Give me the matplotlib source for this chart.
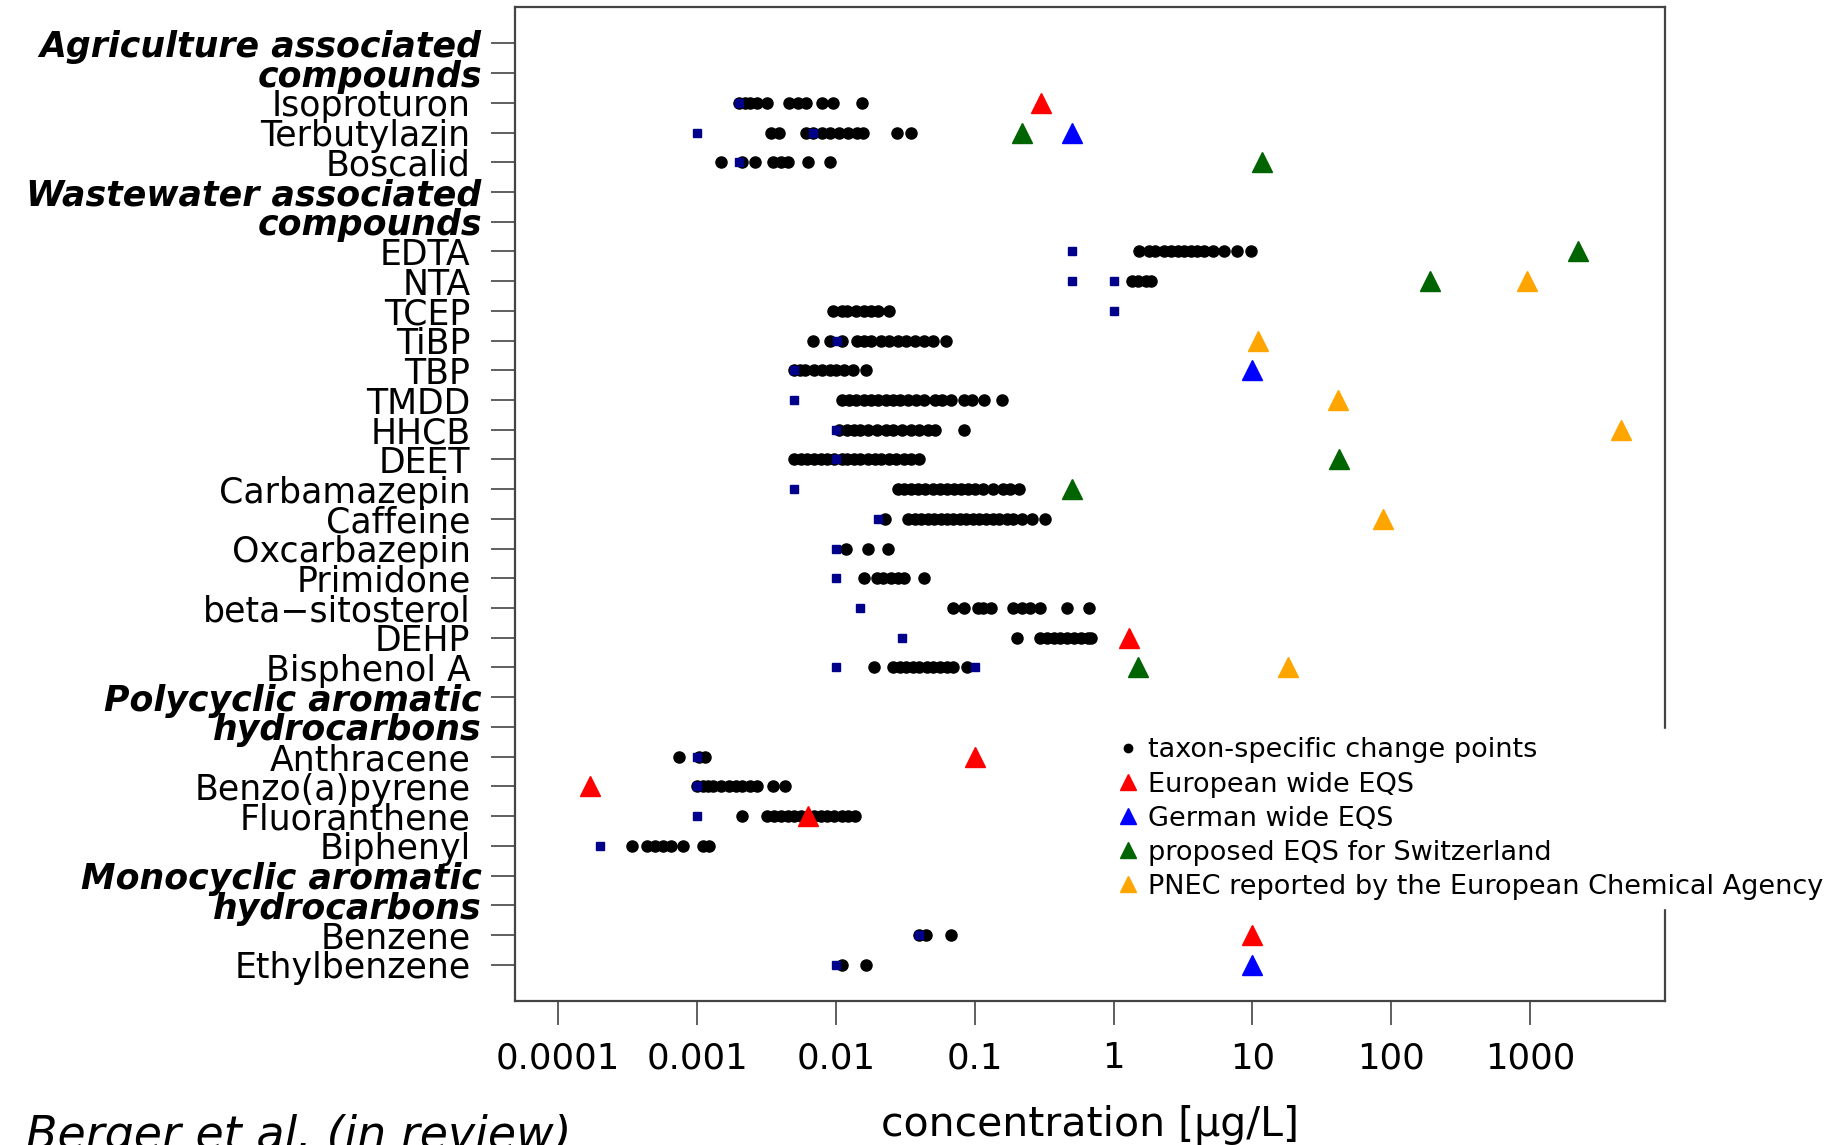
import matplotlib.pyplot as plt
from matplotlib.lines import Line2D
from matplotlib.ticker import NullLocator

# rows from top to bottom
row_labels = ['Agriculture associated', 'compounds',
              'Isoproturon', 'Terbutylazin', 'Boscalid',
              'Wastewater associated', 'compounds',
              'EDTA', 'NTA', 'TCEP', 'TiBP', 'TBP', 'TMDD', 'HHCB', 'DEET',
              'Carbamazepin', 'Caffeine', 'Oxcarbazepin', 'Primidone',
              'beta\u2212sitosterol', 'DEHP', 'Bisphenol A',
              'Polycyclic aromatic', 'hydrocarbons',
              'Anthracene', 'Benzo(a)pyrene', 'Fluoranthene', 'Biphenyl',
              'Monocyclic aromatic', 'hydrocarbons',
              'Benzene', 'Ethylbenzene']
header_rows = [0, 1, 5, 6, 22, 23, 28, 29]

# taxon-specific change points (ug/L)
change_points = {
    'Isoproturon': [0.0020, 0.0022, 0.0024, 0.0027, 0.0032, 0.0046, 0.0053, 0.0061,
                    0.0079, 0.0095, 0.0155],
    'Terbutylazin': [0.0034, 0.0039, 0.0061, 0.0068, 0.0079, 0.0091, 0.0106, 0.0122,
                     0.0142, 0.0158, 0.0276, 0.0345],
    'Boscalid': [0.0015, 0.0021, 0.0026, 0.0035, 0.0040, 0.0045, 0.0063, 0.0090],
    'EDTA': [1.53, 1.8, 2.0, 2.3, 2.6, 2.9, 3.2, 3.6, 4.0, 4.5, 5.2, 6.2, 7.8, 9.7],
    'NTA': [1.35, 1.5, 1.7, 1.85],
    'TCEP': [0.0095, 0.011, 0.012, 0.014, 0.016, 0.018, 0.020, 0.024],
    'TiBP': [0.0068, 0.0091, 0.011, 0.0142, 0.016, 0.018, 0.021, 0.024, 0.028, 0.032,
             0.037, 0.043, 0.050, 0.062],
    'TBP': [0.005, 0.0055, 0.006, 0.007, 0.008, 0.009, 0.010, 0.0115, 0.0132, 0.0165],
    'TMDD': [0.011, 0.0125, 0.014, 0.016, 0.018, 0.020, 0.023, 0.026, 0.029, 0.033,
             0.038, 0.043, 0.052, 0.058, 0.067, 0.084, 0.095, 0.117, 0.157],
    'HHCB': [0.0105, 0.012, 0.0135, 0.015, 0.017, 0.0198, 0.023, 0.026, 0.030, 0.035,
             0.040, 0.046, 0.052, 0.084],
    'DEET': [0.005, 0.0056, 0.0062, 0.007, 0.0078, 0.0087, 0.0097, 0.011, 0.012,
             0.0135, 0.015, 0.017, 0.019, 0.021, 0.024, 0.027, 0.031, 0.035, 0.040],
    'Carbamazepin': [0.028, 0.031, 0.035, 0.039, 0.044, 0.050, 0.056, 0.063, 0.071,
                     0.080, 0.090, 0.10, 0.115, 0.136, 0.16, 0.18, 0.21],
    'Caffeine': [0.0225, 0.033, 0.037, 0.041, 0.046, 0.051, 0.057, 0.063, 0.070, 0.078,
                 0.087, 0.097, 0.108, 0.12, 0.135, 0.15, 0.17, 0.19, 0.22, 0.26, 0.32],
    'Oxcarbazepin': [0.0118, 0.0171, 0.0238],
    'Primidone': [0.0159, 0.0198, 0.022, 0.025, 0.028, 0.031, 0.043],
    'beta\u2212sitosterol': [0.070, 0.084, 0.105, 0.115, 0.131, 0.189, 0.22, 0.25, 0.295,
                             0.46, 0.67],
    'DEHP': [0.20, 0.295, 0.33, 0.37, 0.41, 0.46, 0.52, 0.58, 0.65, 0.69],
    'Bisphenol A': [0.0188, 0.026, 0.029, 0.032, 0.036, 0.040, 0.045, 0.050, 0.056,
                    0.063, 0.070, 0.088],
    'Anthracene': [0.00074, 0.00103, 0.00115],
    'Benzo(a)pyrene': [0.001, 0.0011, 0.0012, 0.0013, 0.0015, 0.0017, 0.0019, 0.0021,
                       0.0024, 0.0027, 0.0035, 0.0043],
    'Fluoranthene': [0.0021, 0.0032, 0.0036, 0.0040, 0.0045, 0.0050, 0.0056, 0.0063,
                     0.0070, 0.0078, 0.0087, 0.0097, 0.011, 0.0122, 0.0137],
    'Biphenyl': [0.00034, 0.00044, 0.0005, 0.00057, 0.00065, 0.00079, 0.0011, 0.00123],
    'Benzene': [0.040, 0.0447, 0.067],
    'Ethylbenzene': [0.011, 0.0165],
}

# detection limits (blue squares)
detection_limits = {
    'Isoproturon': [0.002], 'Terbutylazin': [0.001, 0.0069], 'Boscalid': [0.002],
    'EDTA': [0.5], 'NTA': [0.5, 1.0], 'TCEP': [1.0], 'TiBP': [0.0102], 'TBP': [0.005],
    'TMDD': [0.005], 'HHCB': [0.01], 'DEET': [0.01], 'Carbamazepin': [0.005],
    'Caffeine': [0.02], 'Oxcarbazepin': [0.01], 'Primidone': [0.01],
    'beta\u2212sitosterol': [0.015], 'DEHP': [0.03], 'Bisphenol A': [0.01, 0.1],
    'Anthracene': [0.001], 'Benzo(a)pyrene': [0.001], 'Fluoranthene': [0.001],
    'Biphenyl': [0.0002], 'Benzene': [0.04], 'Ethylbenzene': [0.01],
}

eqs_europe = {'Isoproturon': 0.3, 'DEHP': 1.3, 'Anthracene': 0.1,
              'Benzo(a)pyrene': 0.00017, 'Fluoranthene': 0.0063, 'Benzene': 10}
eqs_germany = {'Terbutylazin': 0.5, 'TBP': 10, 'Ethylbenzene': 10}
eqs_switzerland = {'Terbutylazin': 0.22, 'Boscalid': 11.7, 'EDTA': 2200, 'NTA': 190,
                   'DEET': 42, 'Carbamazepin': 0.5, 'Bisphenol A': 1.5}
pnec_echa = {'NTA': 950, 'TiBP': 11, 'TMDD': 41, 'HHCB': 4500, 'Caffeine': 87,
             'Bisphenol A': 18}

x_ticks = [0.0001, 0.001, 0.01, 0.1, 1, 10, 100, 1000]
x_tick_labels = ['0.0001', '0.001', '0.01', '0.1', '1', '10', '100', '1000']

plt.rcParams['font.family'] = ['DejaVu Sans']

fig = plt.figure(figsize=(18.31, 11.45), dpi=100)
ax = fig.add_axes([0.2813, 0.1258, 0.628, 0.868])

n = len(row_labels)


def row_y(name):
    return n - row_labels.index(name)


for name, vals in change_points.items():
    ax.plot(vals, [row_y(name)] * len(vals), 'o', color='black', ms=8, ls='none', zorder=3)

for name, vals in detection_limits.items():
    ax.plot(vals, [row_y(name)] * len(vals), 's', color='#00008B', ms=6, ls='none', zorder=4)

tri_sets = [(eqs_europe, 'red'), (eqs_germany, 'blue'),
            (eqs_switzerland, '#006400'), (pnec_echa, 'orange')]
for d, col in tri_sets:
    for name, v in d.items():
        ax.plot([v], [row_y(name)], '^', color=col, ms=14, ls='none', zorder=5)

ax.set_xscale('log')
ax.set_xlim(10 ** -4.31, 10 ** 3.97)
ax.set_ylim(-0.22, n + 1.22)
ax.set_xticks(x_ticks, labels=x_tick_labels)
ax.xaxis.set_minor_locator(NullLocator())
ax.set_yticks([n - i for i in range(n)], labels=row_labels)

for sp in ax.spines.values():
    sp.set_color('#444444')
    sp.set_linewidth(1.6)

ax.tick_params(axis='both', length=17, width=1.2, color='#444444')
ax.tick_params(axis='x', labelsize=25.5, pad=12)
ax.tick_params(axis='y', labelsize=25)

for i, (tick, lab) in enumerate(zip(ax.yaxis.get_major_ticks(), ax.get_yticklabels())):
    if i in header_rows:
        lab.set_fontweight('bold')
        lab.set_fontstyle('italic')
        tick.set_pad(7)
    else:
        tick.set_pad(15)

ax.set_xlabel('concentration [\u00b5g/L]', fontsize=29.5)
ax.xaxis.set_label_coords(0.5, -0.105)

fig.text(0.014, 0.027, 'Berger et al. (in review)', fontsize=33, style='italic',
         va='top', ha='left')

handles = [Line2D([], [], marker='o', color='black', ls='none', ms=6),
           Line2D([], [], marker='^', color='red', ls='none', ms=11),
           Line2D([], [], marker='^', color='blue', ls='none', ms=11),
           Line2D([], [], marker='^', color='#006400', ls='none', ms=11),
           Line2D([], [], marker='^', color='orange', ls='none', ms=11)]
names = ['taxon-specific change points', 'European wide EQS', 'German wide EQS',
         'proposed EQS for Switzerland', 'PNEC reported by the European Chemical Agency']
leg = ax.legend(handles, names, loc='upper left', bbox_to_anchor=(0.502, 0.287),
                fontsize=19.5, frameon=True, fancybox=False, framealpha=1,
                edgecolor='white', facecolor='white', handlelength=1.0,
                handletextpad=0.25, labelspacing=0.3, borderpad=0.3)
leg.set_zorder(10)

fig.savefig('out.png', dpi=100)
